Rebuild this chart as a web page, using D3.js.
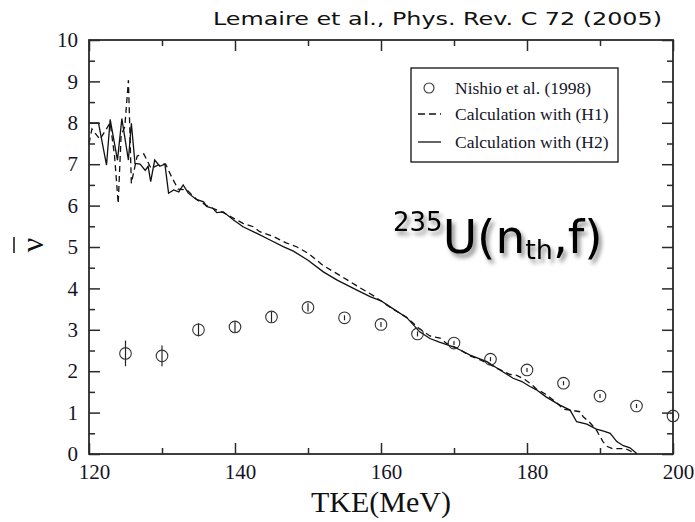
<!DOCTYPE html>
<html><head><meta charset="utf-8">
<script src="https://cdn.jsdelivr.net/npm/d3@7"></script>
<style>html,body{margin:0;padding:0;background:#fff;}svg{display:block;}</style>
</head><body>
<svg id="c" width="695" height="522"></svg>
<script>
// ---- data ----
const nishioTKE = [125,130,135,140,145,150,155,160,165,170,175,180,185,190,195,200];
const nishioNu  = [2.43,2.37,3.00,3.07,3.31,3.54,3.29,3.13,2.90,2.68,2.29,2.03,1.71,1.40,1.16,0.92];
const nishioErr = [0.31,0.25,0.16,0.14,0.13,0.10,0.06,0.06,0.06,0.05,0.05,0.05,0.05,0.05,0.05,0.05];

const h1TKE = [120,120.4,121.5,122.9,123.5,124.0,124.4,124.9,125.4,125.8,126.6,127.5,128.5,129.7,130.5,131.3,132.2,133.4,134.8,136.1,138.4,141.1,142.5,143.4,145.3,147.0,148.5,150.0,152.1,154.5,156.7,159.0,161.2,163.5,165.3,166.7,168.1,169.0,170.5,172.2,173.1,174.5,175.9,177.7,178.6,179.7,180.4,181.3,182.5,184.0,185.0,186.3,187.3,187.7,188.5,189.5,190.4,191.0,191.7,193.5,195.0];
const h1Nu  = [7.5,7.85,7.6,8.0,7.2,6.05,7.7,7.9,9.03,6.54,7.2,7.25,6.9,7.0,7.0,6.7,6.4,6.38,6.14,6.0,5.83,5.57,5.49,5.37,5.25,5.1,5.0,4.85,4.55,4.3,4.06,3.82,3.55,3.3,3.02,2.85,2.8,2.67,2.55,2.37,2.31,2.2,2.07,1.92,1.9,1.8,1.71,1.57,1.45,1.25,1.08,1.05,1.02,0.9,0.78,0.58,0.3,0.18,0.13,0.13,0.0];

const h2TKE = [120,121.3,122.4,122.9,123.9,124.5,125.4,125.8,126.3,127.0,127.7,128.1,128.45,129.0,129.7,130.4,130.9,131.6,132.3,132.9,133.6,134.7,135.7,136.1,137.0,137.5,138.4,139.8,141.1,143.0,144.8,146.6,148.0,150.0,152.1,154.0,156.7,158.5,160.0,161.2,163.5,165.3,166.7,168.0,169.9,171.0,172.2,174.5,176.3,178.1,179.3,180.4,181.3,182.6,184.5,185.9,186.8,188.2,189.5,190.5,191.4,192.3,193.2,194.1,195.0];
const h2Nu  = [8.0,8.0,6.98,8.08,7.1,8.1,7.1,7.99,7.02,7.0,6.85,6.95,6.58,7.1,6.95,7.0,6.3,6.38,6.33,6.5,6.3,6.15,6.09,5.98,5.93,5.83,5.85,5.65,5.49,5.33,5.17,5.01,4.9,4.68,4.4,4.2,3.96,3.8,3.7,3.56,3.3,2.95,2.79,2.7,2.59,2.5,2.39,2.23,2.03,1.83,1.75,1.63,1.55,1.38,1.18,1.06,0.78,0.72,0.6,0.55,0.5,0.3,0.2,0.15,0.02];

const xTicks = [120,140,160,180,200];
const xMinor = [130,150,170,190];
const yTicks = [0,1,2,3,4,5,6,7,8,9,10];
const yMinor = [0.5,1.5,2.5,3.5,4.5,5.5,6.5,7.5,8.5,9.5];
const legendLabels = ["Nishio et al. (1998)","Calculation with (H1)","Calculation with (H2)"];

// ---- layout ----
const L=89, R=673, T=40, B=454;
const svg = d3.select("#c");
const x = d3.scaleLinear().domain([120,200]).range([L,R]);
const y = d3.scaleLinear().domain([0,10]).range([B,T]);
const ink = "#2a2a2a";

const defs = svg.append("defs");
const f = defs.append("filter").attr("id","sh").attr("x","-10%").attr("y","-10%").attr("width","130%").attr("height","140%");
f.append("feDropShadow").attr("dx",3).attr("dy",4).attr("stdDeviation",2.2).attr("flood-color","#000").attr("flood-opacity",0.45);

// curves
const line = d3.line().x(d=>x(d[0])).y(d=>y(d[1]));
svg.append("path").datum(d3.zip(h1TKE,h1Nu)).attr("d",line)
  .attr("fill","none").attr("stroke","#111").attr("stroke-width",1.3).attr("stroke-dasharray","6,4");
svg.append("path").datum(d3.zip(h2TKE,h2Nu)).attr("d",line)
  .attr("fill","none").attr("stroke","#111").attr("stroke-width",1.3);

// data points
const pts = svg.append("g");
nishioTKE.forEach((t,i)=>{
  pts.append("line").attr("x1",x(t)).attr("x2",x(t))
    .attr("y1",y(nishioNu[i]-nishioErr[i])).attr("y2",y(nishioNu[i]+nishioErr[i]))
    .attr("stroke","#222").attr("stroke-width",1.2);
  pts.append("circle").attr("cx",x(t)).attr("cy",y(nishioNu[i])).attr("r",5.8)
    .attr("fill","none").attr("stroke","#333").attr("stroke-width",1.1);
});

// axes (frame + ticks)
const axG = svg.append("g");
const mk = (g, axis) => { g.call(axis); g.select(".domain").remove(); g.selectAll("line").attr("stroke",ink).attr("stroke-width",1.5); return g; };
mk(axG.append("g").attr("transform",`translate(0,${B})`), d3.axisBottom(x).tickValues(xTicks).tickSize(-11).tickPadding(10).tickFormat(d3.format("d")))
  .selectAll("text").attr("dx",5);
mk(axG.append("g").attr("transform",`translate(0,${B})`), d3.axisBottom(x).tickValues(xMinor).tickSize(-6).tickFormat(""));
mk(axG.append("g").attr("transform",`translate(0,${T})`), d3.axisTop(x).tickValues(xTicks).tickSize(-11).tickFormat(""));
mk(axG.append("g").attr("transform",`translate(0,${T})`), d3.axisTop(x).tickValues(xMinor).tickSize(-6).tickFormat(""));
mk(axG.append("g").attr("transform",`translate(${L},0)`), d3.axisLeft(y).tickValues(yTicks).tickSize(-11).tickPadding(11).tickFormat(d3.format("d")));
mk(axG.append("g").attr("transform",`translate(${L},0)`), d3.axisLeft(y).tickValues(yMinor).tickSize(-6).tickFormat(""));
mk(axG.append("g").attr("transform",`translate(${R},0)`), d3.axisRight(y).tickValues(yTicks).tickSize(-11).tickFormat(""));
mk(axG.append("g").attr("transform",`translate(${R},0)`), d3.axisRight(y).tickValues(yMinor).tickSize(-6).tickFormat(""));
axG.selectAll("text").attr("font-family","'Liberation Serif','Times New Roman',serif").attr("font-size",21).attr("fill","#141428");
axG.append("rect").attr("x",L).attr("y",T).attr("width",R-L).attr("height",B-T)
  .attr("fill","none").attr("stroke",ink).attr("stroke-width",1.8);

// axis titles
svg.append("text").attr("x",x(160)).attr("y",512).attr("text-anchor","middle")
  .attr("font-family","'Liberation Serif','Times New Roman',serif").attr("font-size",30).attr("fill","#111")
  .text("TKE(MeV)");
const yl = svg.append("g").attr("transform","translate(43,245) rotate(-90)");
yl.append("text").attr("x",0).attr("y",0).attr("text-anchor","middle")
  .attr("font-family","'Liberation Serif','Times New Roman',serif").attr("font-size",32).attr("fill","#111").text("ν");
yl.append("line").attr("x1",-8).attr("x2",8).attr("y1",-29).attr("y2",-29).attr("stroke","#111").attr("stroke-width",1.5);

// top citation
svg.append("text").attr("x",213).attr("y",25).attr("textLength",449).attr("lengthAdjust","spacingAndGlyphs")
  .attr("font-family","'DejaVu Sans',Verdana,sans-serif").attr("font-size",18).attr("fill","#111")
  .text("Lemaire et al., Phys. Rev. C 72 (2005)");

// reaction annotation
const ann = svg.append("text").attr("x",393).attr("y",253).attr("filter","url(#sh)")
  .attr("font-family","'DejaVu Sans',Verdana,sans-serif").attr("fill","#000");
ann.append("tspan").attr("font-size",26).attr("dy",-22).text("235");
ann.append("tspan").attr("font-size",47).attr("dy",22).text("U(n");
ann.append("tspan").attr("font-size",27).attr("dy",6).text("th");
ann.append("tspan").attr("font-size",47).attr("dy",-6).text(",f)");

// legend
const lg = svg.append("g");
lg.append("rect").attr("x",411).attr("y",68).attr("width",207).attr("height",94)
  .attr("fill","#fff").attr("stroke","#111").attr("stroke-width",1.3);
const rows=[88,114,142];
lg.append("circle").attr("cx",429).attr("cy",rows[0]).attr("r",5).attr("fill","none").attr("stroke","#333").attr("stroke-width",1.1);
lg.append("line").attr("x1",418).attr("x2",441).attr("y1",rows[1]).attr("y2",rows[1]).attr("stroke","#111").attr("stroke-width",1.3).attr("stroke-dasharray","7,4");
lg.append("line").attr("x1",418).attr("x2",441).attr("y1",rows[2]).attr("y2",rows[2]).attr("stroke","#111").attr("stroke-width",1.3);
legendLabels.forEach((s,i)=>{
  lg.append("text").attr("x",455).attr("y",rows[i]+6)
    .attr("font-family","'Liberation Serif','Times New Roman',serif").attr("font-size",17.5).attr("fill","#141428").text(s);
});
</script>
</body></html>
